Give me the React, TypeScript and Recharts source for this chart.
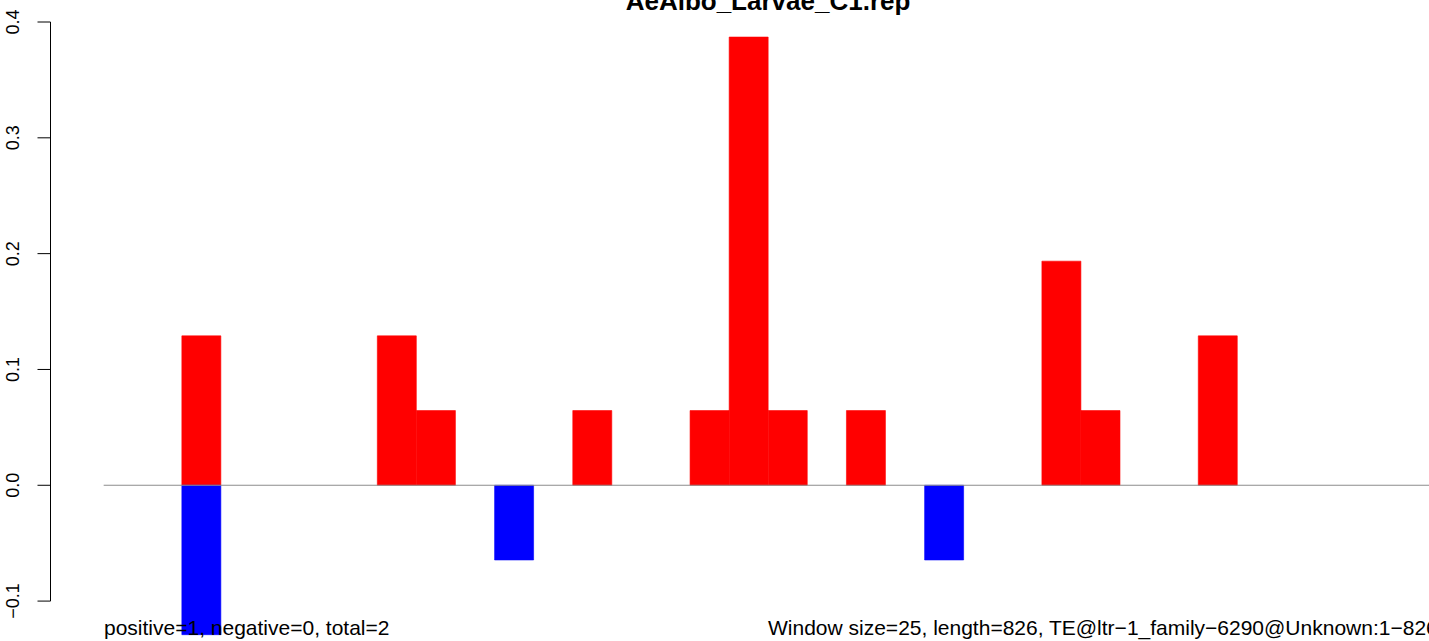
// Sliding-window bar plot: positive windows in red, negative in blue, R base-graphics look

import React from 'react';
import { ComposedChart, Bar, XAxis, YAxis, ReferenceLine } from 'recharts';

const title = 'AeAlbo_Larvae_C1.rep';
const windowSize = 25;
const seqLength = 826;
const xRange = [-34, 884];
const yTicks = [-0.1, 0, 0.1, 0.2, 0.3, 0.4];

// one value per window of 25 bases
const positive = [
  0, 0, 0.129, 0, 0, 0, 0, 0.129, 0.0645, 0, 0, 0, 0.0645, 0, 0, 0.0645, 0.387,
  0.0645, 0, 0.0645, 0, 0, 0, 0, 0.1935, 0.0645, 0, 0, 0.129, 0, 0, 0, 0, 0,
];
const negative = [
  0, 0, -0.129, 0, 0, 0, 0, 0, 0, 0, -0.0645, 0, 0, 0, 0, 0, 0,
  0, 0, 0, 0, -0.0645, 0, 0, 0, 0, 0, 0, 0, 0, 0, 0, 0, 0,
];

const leftNote = 'positive=1, negative=0, total=2';
const rightNote = `Window size=${windowSize}, length=${seqLength}, TE@ltr\u22121_family\u22126290@Unknown:1\u2212${seqLength}`;

const data = positive.map((p, i) => ({
  pos: i * windowSize + windowSize / 2,
  positive: p,
  negative: negative[i],
}));

const FONT = '"Liberation Sans", Arial, Helvetica, sans-serif';

const fmtTick = (v: number) => (v < 0 ? '\u2212' : '') + Math.abs(v).toFixed(1);

const RotatedTick = ({ x, y, payload }: { x: number; y: number; payload: { value: number } }) => (
  <text
    x={x - 16}
    y={y}
    transform={`rotate(-90, ${x - 16}, ${y})`}
    textAnchor="middle"
    fontFamily={FONT}
    fontSize={18}
    fill="#000"
  >
    {fmtTick(payload.value)}
  </text>
);

export default function App() {
  return (
    <div style={{ position: 'fixed', left: 0, top: 0, width: 1429, height: 641, overflow: 'hidden', background: '#fff' }}>
      <ComposedChart
        width={1486}
        height={659}
        data={data}
        margin={{ top: 0, right: 0, bottom: 0, left: 0 }}
        barCategoryGap={0}
        barGap={0}
        stackOffset="sign"
      >
        <XAxis dataKey="pos" type="number" domain={xRange} hide />
        <YAxis
          type="number"
          domain={[-0.15, 0.419]}
          ticks={yTicks}
          width={50.5}
          axisLine={false}
          tickLine={{ stroke: '#000', strokeWidth: 1 }}
          tickSize={13}
          tick={RotatedTick}
          interval={0}
        />
        <Bar dataKey="positive" stackId="w" fill="#ff0000" stroke="#ff0000" strokeWidth={0.6} isAnimationActive={false} />
        <Bar dataKey="negative" stackId="w" fill="#0000ff" stroke="#0000ff" strokeWidth={0.6} isAnimationActive={false} />
        <ReferenceLine
          segment={[{ x: 0, y: 0 }, { x: 850, y: 0 }]}
          stroke="#8c8c8c"
          strokeWidth={1.2}
        />
        <ReferenceLine
          segment={[{ x: xRange[0], y: -0.1 }, { x: xRange[0], y: 0.4 }]}
          stroke="#000"
          strokeWidth={1}
        />
      </ComposedChart>
      <svg
        width={1429}
        height={641}
        style={{ position: 'absolute', left: 0, top: 0, pointerEvents: 'none' }}
      >
        <text x={768} y={10} textAnchor="middle" fontFamily={FONT} fontWeight="bold" fontSize={26} fill="#000">
          {title}
        </text>
        <text x={104} y={635} fontFamily={FONT} fontSize={21} fill="#000">
          {leftNote}
        </text>
        <text x={768} y={635} fontFamily={FONT} fontSize={21} fill="#000">
          {rightNote}
        </text>
      </svg>
    </div>
  );
}
